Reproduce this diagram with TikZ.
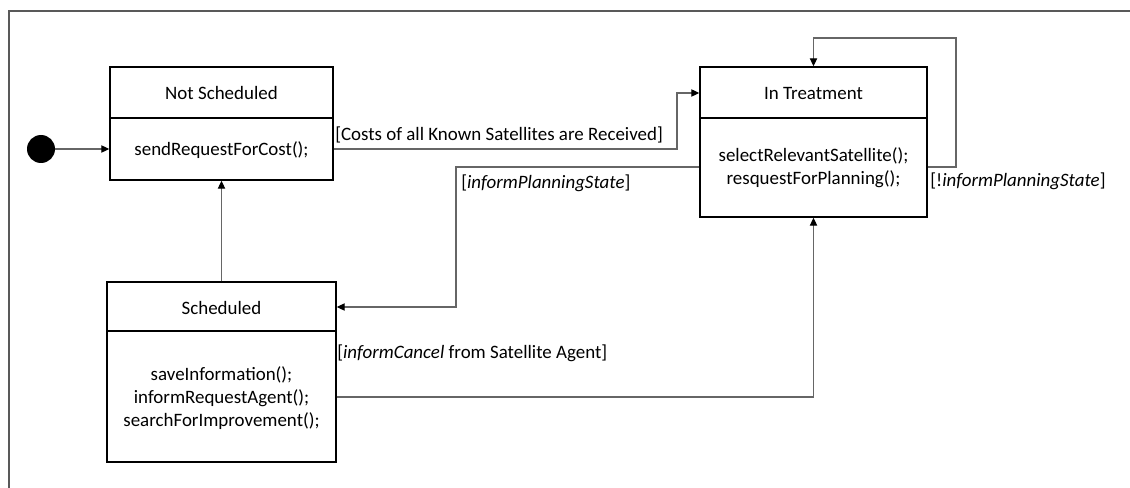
\documentclass[tikz,border=0pt]{standalone}
\usepackage{fontspec}
\setmainfont{Carlito}
\usetikzlibrary{arrows.meta,fit}
\begin{document}
\begin{tikzpicture}[x=0.75pt,y=-0.75pt,
  statebox/.style={draw=black,line width=1.1pt,inner sep=0pt,rectangle},
  divider/.style={draw=black,line width=1.1pt},
  conn/.style={draw=black!60,line width=0.8pt,-{Triangle[length=6pt,width=5.5pt,fill=black,color=black]}},
  txt/.style={font=\fontsize{14.2}{17.5}\selectfont,inner sep=0pt,align=center},
  lbl/.style={font=\fontsize{14.2}{16}\selectfont,inner sep=0pt,anchor=west},
  frame/.style={draw=black!65,line width=1.2pt}
]
\useasboundingbox (0,0) rectangle (1130,488);
\fill[white] (0,0) rectangle (1130,488);
\draw[frame] (9,490) -- (9,11) -- (1132,11);

% initial state
\node[circle,fill=black,minimum size=28*0.75pt,inner sep=0pt] (init) at (41,149) {};

% states
\node[statebox,fit={(110,67) (333,180)}] (ns) {};
\draw[divider] (110,118) -- (333,118);
\node[txt] (nst) at (221.5,93) {Not Scheduled};
\node[txt] (nsb) at (221.5,150) {sendRequestForCost();};

\node[statebox,fit={(700,67) (927,217)}] (it) {};
\draw[divider] (700,118) -- (927,118);
\node[txt] (itt) at (813.5,93) {In Treatment};
\node[txt] (itb) at (813.5,168) {selectRelevantSatellite();\\resquestForPlanning();};

\node[statebox,fit={(107,282) (336,462)}] (sc) {};
\draw[divider] (107,331) -- (336,331);
\node[txt] (sct) at (221.5,308) {Scheduled};
\node[txt] (scb) at (221.5,398) {saveInformation();\\informRequestAgent();\\searchForImprovement();};

% transitions
\draw[conn] (init) -- (ns.west |- init);
\draw[conn] (ns.east |- 0,149) -- (677,149) |- (it.west |- 0,93);
\coordinate (loopR) at (956,38);
\draw[conn] (it.east |- 0,167) -| (loopR) -| (it.north);
\draw[conn] (it.west |- 0,167) -- (456,167) |- (sc.east |- 0,307);
\draw[conn] (sc.east |- 0,397) -| (it.south);
\draw[conn] (sc.north) -- (ns.south);

% labels
\node[lbl] (l1) at (335,135) {[Costs of all Known Satellites are Received]};
\node[lbl] (l2) at (461,183) {[\textit{informPlanningState}]};
\node[lbl] (l3) at (930,181) {[!\textit{informPlanningState}]};
\node[lbl] (l4) at (337,353) {[\textit{informCancel} from Satellite Agent]};
\end{tikzpicture}
\end{document}
